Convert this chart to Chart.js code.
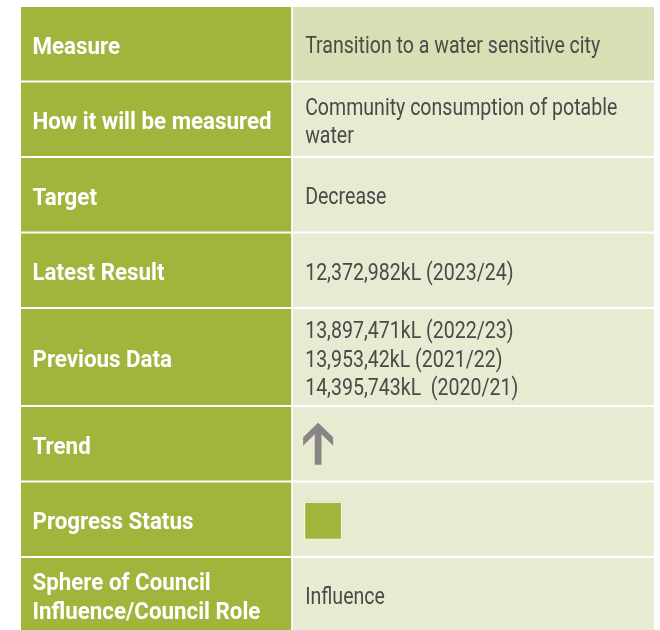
<!DOCTYPE html>
<html>
<head>
<meta charset="utf-8">
<script src="https://cdn.jsdelivr.net/npm/chart.js@4.4.1/dist/chart.umd.min.js"></script>
<style>
  body { margin: 0; background: #fff; }
  canvas { display: block; }
</style>
</head>
<body>
<canvas id="tableChart" width="660" height="630"></canvas>
<script>
// table content, one entry per row (each entry = lines of text)
const rowLabels = [
  ['Measure'],
  ['How it will be measured'],
  ['Target'],
  ['Latest Result'],
  ['Previous Data'],
  ['Trend'],
  ['Progress Status'],
  ['Sphere of Council', 'Influence/Council Role']
];
const rowValues = [
  ['Transition to a water sensitive city'],
  ['Community consumption of potable', 'water'],
  ['Decrease'],
  ['12,372,982kL (2023/24)'],
  ['13,897,471kL (2022/23)', '13,953,42kL (2021/22)', '14,395,743kL  (2020/21)'],
  [],
  [],
  ['Influence']
];
const trendRow = 5;
const trendDirection = 'up';
const statusRow = 6;
const progressStatus = 'green';

// look
const green = '#a2b43b';
const headTint = '#d9deb4';
const cellTint = '#e6ebd2';
const arrowGrey = '#8a8583';
const textGrey = '#4a4a48';
const statusColours = { green: green };

const lineHeight = 28.5;
const minRowHeight = 75.5;
const rowPadding = 12.5;
const colSpans = [3, 4]; // label column : value column

// row heights follow the number of text lines
const rowHeights = rowLabels.map((lab, i) =>
  Math.max(minRowHeight, rowPadding + lineHeight * Math.max(lab.length, rowValues[i].length)));
const rowTops = [];
let acc = 0;
rowHeights.forEach(h => { rowTops.push(acc); acc += h; });

const labelCells = rowHeights.map((h, i) => ({ x: colSpans[0] / 2, y: [rowTops[i], rowTops[i] + h] }));
const valueCells = rowHeights.map((h, i) => ({ x: colSpans[0] + colSpans[1] / 2, y: [rowTops[i], rowTops[i] + h] }));

const labelFont = { size: 23.5, weight: 'bold', squeeze: 0.95, colour: '#fff', inset: 12.5 };
const valueFont = { size: 23, weight: '400', squeeze: 0.85, colour: textGrey, inset: 13 };

function drawLines(ctx, lines, x, mid, f) {
  const cap = f.size * 0.71;
  ctx.font = f.weight + ' ' + f.size + 'px Roboto, "Liberation Sans", sans-serif';
  ctx.fillStyle = f.colour;
  ctx.textAlign = 'left';
  ctx.textBaseline = 'alphabetic';
  lines.forEach((s, j) => {
    const base = mid + 1.5 + cap / 2 + (j - (lines.length - 1) / 2) * lineHeight;
    ctx.save();
    ctx.translate(x, base);
    ctx.scale(f.squeeze, 1);
    ctx.fillText(s, 0, 0);
    ctx.restore();
  });
}

function drawArrow(ctx, cx, mid) {
  const ty = mid - 21;
  ctx.beginPath();
  ctx.moveTo(cx, ty);
  ctx.lineTo(cx - 15, ty + 14.5);
  ctx.lineTo(cx - 15, ty + 23);
  ctx.lineTo(cx - 3.4, ty + 11.5);
  ctx.lineTo(cx - 3.4, ty + 42);
  ctx.lineTo(cx + 3.4, ty + 42);
  ctx.lineTo(cx + 3.4, ty + 11.5);
  ctx.lineTo(cx + 15, ty + 23);
  ctx.lineTo(cx + 15, ty + 14.5);
  ctx.closePath();
  ctx.fillStyle = arrowGrey;
  ctx.fill();
}

function cellBox(bar) {
  const b = bar.getProps(['x', 'y', 'base', 'width'], true);
  const top = Math.min(b.y, b.base);
  const bottom = Math.max(b.y, b.base);
  return { left: b.x - b.width / 2, mid: (top + bottom) / 2 };
}

const cellText = {
  id: 'cellText',
  afterDatasetsDraw(chart) {
    const ctx = chart.ctx;
    const left = chart.getDatasetMeta(0).data;
    const right = chart.getDatasetMeta(1).data;
    ctx.save();
    rowLabels.forEach((lab, i) => {
      const l = cellBox(left[i]);
      drawLines(ctx, lab, l.left + labelFont.inset, l.mid, labelFont);
      const r = cellBox(right[i]);
      drawLines(ctx, rowValues[i], r.left + valueFont.inset, r.mid, valueFont);
      if (i === trendRow && trendDirection === 'up') {
        drawArrow(ctx, r.left + 26, r.mid);
      }
      if (i === statusRow) {
        const sx = r.left + 12, sy = r.mid - 17.5;
        ctx.fillStyle = statusColours[progressStatus];
        ctx.fillRect(sx, sy, 38, 38);
        ctx.strokeStyle = '#fff';
        ctx.lineWidth = 1;
        ctx.strokeRect(sx + 0.5, sy + 0.5, 37, 37);
      }
    });
    ctx.restore();
  }
};

const ctx = document.getElementById('tableChart').getContext('2d');
const tableChart = new Chart(ctx, {
  type: 'bar',
  data: {
    datasets: [
      {
        label: 'Measure',
        data: labelCells,
        backgroundColor: green,
        barPercentage: colSpans[0],
        categoryPercentage: 1
      },
      {
        label: 'Detail',
        data: valueCells,
        backgroundColor: rowValues.map((v, i) => i === 0 ? headTint : cellTint),
        barPercentage: colSpans[1],
        categoryPercentage: 1
      }
    ]
  },
  options: {
    responsive: false,
    animation: false,
    devicePixelRatio: 1,
    layout: { padding: { left: 20, top: 6, right: 5, bottom: 0 } },
    datasets: {
      bar: { grouped: false, borderColor: '#fff', borderWidth: 1, borderSkipped: false }
    },
    plugins: {
      legend: { display: false },
      tooltip: { enabled: false }
    },
    scales: {
      x: {
        type: 'linear',
        min: 0,
        max: colSpans[0] + colSpans[1],
        offset: false,
        display: false,
        ticks: { stepSize: 1 }
      },
      y: {
        type: 'linear',
        reverse: true,
        min: 0,
        max: 624,
        display: false
      }
    }
  },
  plugins: [cellText]
});
</script>
</body>
</html>
